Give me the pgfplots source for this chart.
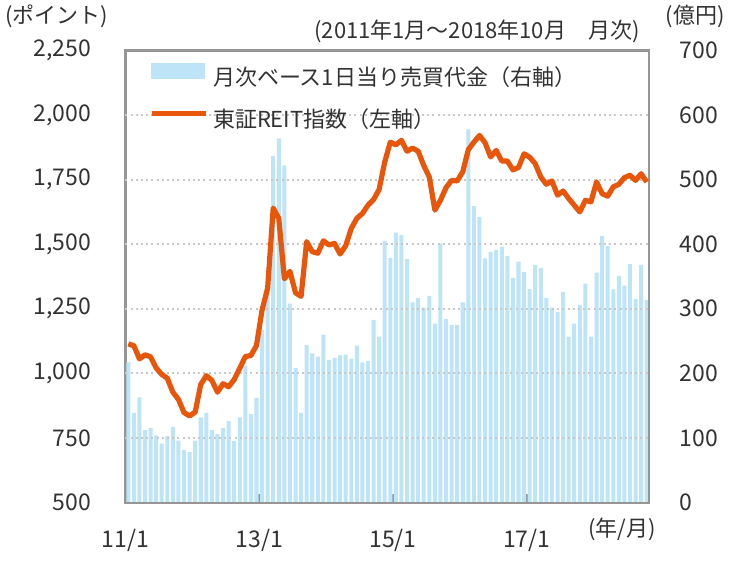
\documentclass[border=0pt]{standalone}
\usepackage{fontspec}
\setmainfont{Noto Sans CJK JP}
\usepackage{pgfplots}
\usepackage{pgfplotstable}
\pgfplotsset{compat=1.18}

\definecolor{barblue}{RGB}{190,228,248}
\definecolor{reitorange}{RGB}{232,86,12}
\definecolor{framegray}{RGB}{150,150,150}
\definecolor{gridgray}{RGB}{200,200,200}
\definecolor{txt}{RGB}{50,50,50}

% month index (0 = 2011/1), daily turnover (100m yen), TSE REIT index
\pgfplotstableread{
n vol reit
0 217 1114
1 139 1107
2 163 1056
3 112 1072
4 115 1064
5 104 1021
6 91 996
7 103 981
8 117 927
9 96 899
10 81 848
11 78 835
12 96 850
13 132 957
14 139 991
15 112 973
16 106 927
17 115 960
18 126 948
19 95 976
20 132 1020
21 212 1065
22 137 1069
23 162 1108
24 267 1245
25 330 1330
26 537 1640
27 564 1600
28 522 1366
29 308 1395
30 208 1312
31 139 1298
32 244 1510
33 231 1471
34 226 1465
35 260 1513
36 221 1497
37 224 1503
38 228 1462
39 229 1494
40 223 1561
41 243 1600
42 217 1619
43 219 1651
44 283 1673
45 257 1712
46 405 1818
47 379 1895
48 418 1885
49 414 1902
50 377 1860
51 310 1872
52 317 1860
53 302 1805
54 320 1760
55 277 1632
56 401 1670
57 284 1719
58 275 1747
59 275 1745
60 310 1780
61 578 1866
62 459 1895
63 442 1921
64 378 1893
65 388 1838
66 391 1863
67 396 1822
68 382 1822
69 348 1788
70 373 1797
71 357 1850
72 331 1837
73 368 1812
74 363 1760
75 317 1732
76 302 1745
77 295 1690
78 326 1706
79 257 1677
80 277 1651
81 306 1625
82 339 1670
83 257 1664
84 356 1741
85 413 1696
86 397 1686
87 330 1722
88 351 1732
89 336 1758
90 369 1767
91 315 1747
92 368 1773
93 314 1741
}\reitdata

\begin{document}
\fontsize{11}{13}\selectfont
\begin{tikzpicture}
\useasboundingbox (-62.75pt,-35.75pt) rectangle (306.75pt,251.25pt);
\pgfplotsset{
  base/.style={
    width=262pt, height=226pt, scale only axis,
    at={(0pt,0pt)}, anchor=south west,
    xmin=-0.5, xmax=93.5,
    axis line style={draw=framegray, line width=1pt},
    ytick style={draw=none},
    tick label style={font=\fontsize{11.5}{13}\selectfont, text=txt},
    /pgf/number format/.cd, 1000 sep={,}, assume math mode=true,
  },
}
% bars: right axis
\begin{axis}[base,
  ymin=0, ymax=700, ytick={0,100,...,700},
  yticklabel pos=right,
  yticklabel style={anchor=west, inner sep=0pt, xshift=15pt},
  xtick={-0.5,23.5,47.5,71.5},
  xticklabels={11/1,13/1,15/1,17/1},
  xtick pos=bottom,
  xtick style={draw=framegray, line width=1pt},
  major tick length=4.5pt,
  xticklabel style={anchor=center, yshift=-18.75pt},
]
\addplot[ybar, bar width=0.72, fill=barblue, draw=none] table[x=n, y=vol] {\reitdata};
\end{axis}
% line: left axis
\begin{axis}[base,
  ymin=500, ymax=2250, ytick={500,750,...,2250},
  yticklabel pos=left,
  yticklabel style={anchor=east, inner sep=0pt, xshift=-17pt},
  xtick=\empty,
  extra y ticks={750,1000,1250,1500,1750,2000},
  extra y tick labels={},
  extra y tick style={ymajorgrids=true, major tick length=0pt},
  grid style={draw=gridgray, line width=1pt, dash pattern=on 1pt off 1.6pt},
  legend cell align=left,
  legend style={at={(0.046,0.972)}, anchor=north west, draw=none, fill=none,
    inner sep=0pt, outer sep=0pt, row sep=9.8pt, column sep=2.5pt,
    font=\fontsize{11}{13}\selectfont, text=txt,
    nodes={inner sep=0pt, text height=8.5pt, text depth=3pt}},
]
\addlegendimage{legend image code/.code={\fill[barblue] (0pt,0.65pt) rectangle (26.2pt,8.15pt);}}
\addlegendentry{月次ベース1日当り売買代金（右軸）}
\addplot[reitorange, line width=2.6pt, line join=round,
  legend image code/.code={\draw[reitorange, line width=2.2pt] (0pt,4.4pt) -- (27pt,4.4pt);}]
  table[x=n, y=reit] {\reitdata};
\addlegendentry{東証REIT指数（左軸）}
\end{axis}
\node[text=txt, inner sep=0pt] at (-34.25pt,243.25pt) {(ポイント)};
\node[text=txt, inner sep=0pt] at (284.75pt,243.25pt) {(億円)};
\node[text=txt, inner sep=0pt, anchor=east] at (257.25pt,235.75pt) {(2011年1月～2018年10月　月次)};
\node[text=txt, inner sep=0pt] at (248.25pt,-13.25pt) {(年/月)};
\end{tikzpicture}
\end{document}
